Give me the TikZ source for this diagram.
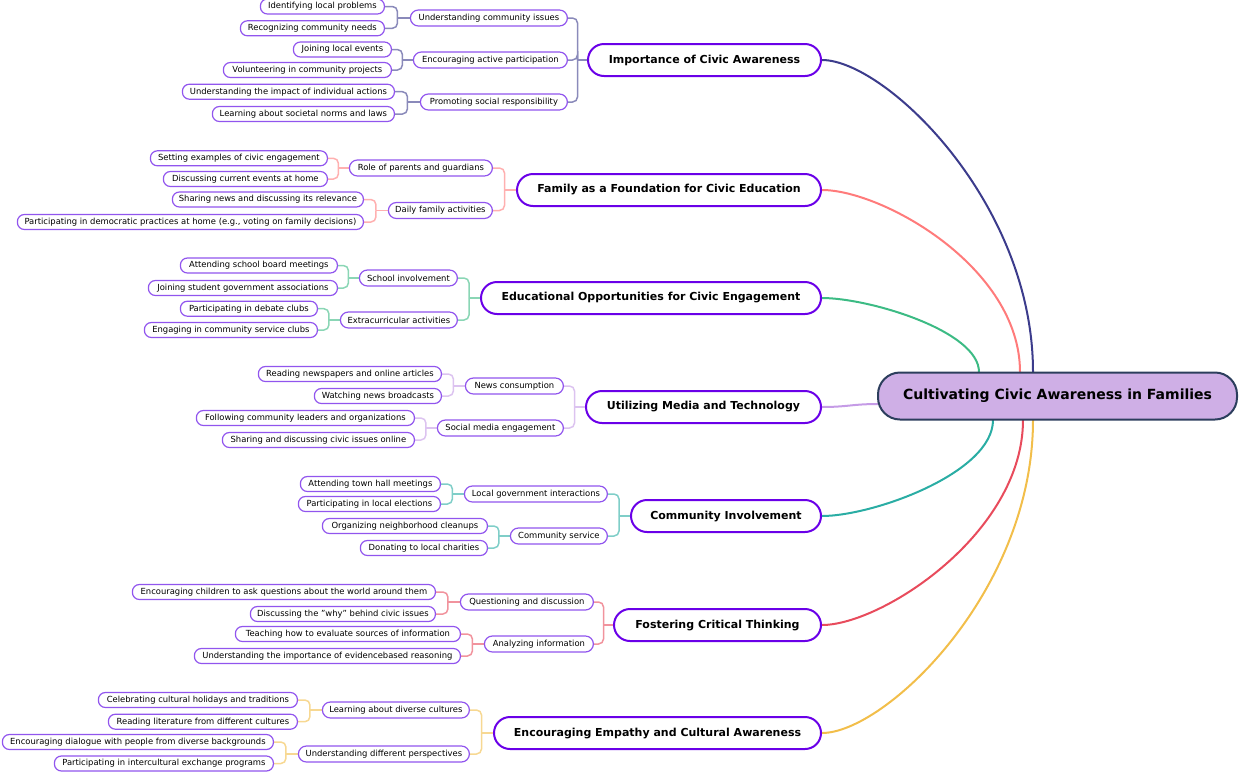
\documentclass[tikz,border=0pt]{standalone}
\usepackage{fontspec}
\setmainfont{DejaVu Sans}
\usetikzlibrary{calc,backgrounds}
\definecolor{leafc}{HTML}{9155EE}
\definecolor{mainc}{HTML}{6A00E8}
\definecolor{rootf}{HTML}{CFAFE6}
\definecolor{rootb}{HTML}{2C3E5D}
\definecolor{bA}{HTML}{3C3C8C}
\definecolor{bB}{HTML}{FF7B7B}
\definecolor{bC}{HTML}{3CBB84}
\definecolor{bD}{HTML}{C59BE6}
\definecolor{bE}{HTML}{2AADA4}
\definecolor{bF}{HTML}{E84B5C}
\definecolor{bG}{HTML}{F2BE4A}
\tikzset{
  leaf/.style={draw=leafc, line width=1.2pt, fill=white, rounded corners=7pt,
    minimum height=15pt, inner sep=0pt, anchor=east, font=\fontsize{8.4}{10}\selectfont},
  sub/.style={leaf, minimum height=16pt, rounded corners=8pt},
  mainn/.style={draw=mainc, line width=2pt, fill=white, rounded corners=16pt,
    minimum height=32pt, inner sep=0pt, anchor=east, font=\fontsize{11}{13}\selectfont\bfseries},
  rootn/.style={draw=rootb, fill=rootf, line width=2pt, rounded corners=22pt,
    minimum height=47pt, minimum width=359pt, inner sep=0pt, font=\fontsize{14}{16}\selectfont\bfseries},
  br/.style={line width=1.5pt, rounded corners=5pt},
  crv/.style={line width=2pt}
}
\newcommand\lnk[3]{%
  \coordinate (tmpm) at ($(#1.east)!0.5!(#2.west)$);
  \draw[br, draw=#3] (#1.east) -| (tmpm |- #2.west);
  \draw[br, draw=#3] (tmpm |- #2.west) -- (#2.west);}
\begin{document}
\begin{tikzpicture}[x=1pt,y=-1pt]
\useasboundingbox (0,0) rectangle (1240,772);

% root
\node[rootn] (root) at (1057.5,396) {Cultivating Civic Awareness in Families};

% branch 1
\node[mainn, minimum width=233pt] (m1) at (822,60) {Importance of Civic Awareness};
\node[sub, minimum width=157pt] (s1a) at (568,18) {Understanding community issues};
\node[sub, minimum width=154pt] (s1b) at (568,60) {Encouraging active participation};
\node[sub, minimum width=147pt] (s1c) at (568,102) {Promoting social responsibility};
\node[leaf, minimum width=124pt] (l1a1) at (385,6.5) {Identifying local problems};
\node[leaf, minimum width=144pt] (l1a2) at (385,28.3) {Recognizing community needs};
\node[leaf, minimum width=98pt] (l1b1) at (392,49.5) {Joining local events};
\node[leaf, minimum width=168pt] (l1b2) at (392,70) {Volunteering in community projects};
\node[leaf, minimum width=212pt] (l1c1) at (395,91.7) {Understanding the impact of individual actions};
\node[leaf, minimum width=182pt] (l1c2) at (395,114) {Learning about societal norms and laws};

% branch 2
\node[mainn, minimum width=304pt] (m2) at (822,190) {Family as a Foundation for Civic Education};
\node[sub, minimum width=143pt] (s2a) at (493,168) {Role of parents and guardians};
\node[sub, minimum width=104pt] (s2b) at (493,210.5) {Daily family activities};
\node[leaf, minimum width=177pt] (l2a1) at (328,158.3) {Setting examples of civic engagement};
\node[leaf, minimum width=164pt] (l2a2) at (328,179) {Discussing current events at home};
\node[leaf, minimum width=191pt] (l2b1) at (364,199.5) {Sharing news and discussing its relevance};
\node[leaf, minimum width=346pt] (l2b2) at (364,222) {Participating in democratic practices at home (e.g., voting on family decisions)};

% branch 3
\node[mainn, minimum width=340pt] (m3) at (822,298) {Educational Opportunities for Civic Engagement};
\node[sub, minimum width=98pt] (s3a) at (458,278) {School involvement};
\node[sub, minimum width=117pt] (s3b) at (458,320) {Extracurricular activities};
\node[leaf, minimum width=157pt] (l3a1) at (338,265.5) {Attending school board meetings};
\node[leaf, minimum width=189pt] (l3a2) at (338,288) {Joining student government associations};
\node[leaf, minimum width=137pt] (l3b1) at (318,308.7) {Participating in debate clubs};
\node[leaf, minimum width=173pt] (l3b2) at (318,330) {Engaging in community service clubs};

% branch 4
\node[mainn, minimum width=235pt] (m4) at (822,407) {Utilizing Media and Technology};
\node[sub, minimum width=98pt] (s4a) at (564,386) {News consumption};
\node[sub, minimum width=126pt] (s4b) at (564,428) {Social media engagement};
\node[leaf, minimum width=183pt] (l4a1) at (442,374) {Reading newspapers and online articles};
\node[leaf, minimum width=127pt] (l4a2) at (442,396) {Watching news broadcasts};
\node[leaf, minimum width=218pt] (l4b1) at (415,418) {Following community leaders and organizations};
\node[leaf, minimum width=192pt] (l4b2) at (415,440) {Sharing and discussing civic issues online};

% branch 5
\node[mainn, minimum width=190pt] (m5) at (822,516) {Community Involvement};
\node[sub, minimum width=143pt] (s5a) at (608,494) {Local government interactions};
\node[sub, minimum width=97pt] (s5b) at (608,536) {Community service};
\node[leaf, minimum width=140pt] (l5a1) at (441,484) {Attending town hall meetings};
\node[leaf, minimum width=142pt] (l5a2) at (441,504) {Participating in local elections};
\node[leaf, minimum width=165pt] (l5b1) at (488,526) {Organizing neighborhood cleanups};
\node[leaf, minimum width=127pt] (l5b2) at (488,548) {Donating to local charities};

% branch 6
\node[mainn, minimum width=207pt] (m6) at (822,625) {Fostering Critical Thinking};
\node[sub, minimum width=133pt] (s6a) at (594,602) {Questioning and discussion};
\node[sub, minimum width=109pt] (s6b) at (594,644) {Analyzing information};
\node[leaf, minimum width=303pt] (l6a1) at (436,592) {Encouraging children to ask questions about the world around them};
\node[leaf, minimum width=185pt] (l6a2) at (436,614) {Discussing the "why" behind civic issues};
\node[leaf, minimum width=225pt] (l6b1) at (461,634) {Teaching how to evaluate sources of information};
\node[leaf, minimum width=266pt] (l6b2) at (461,656) {Understanding the importance of evidencebased reasoning};

% branch 7
\node[mainn, minimum width=327pt] (m7) at (822,733) {Encouraging Empathy and Cultural Awareness};
\node[sub, minimum width=147pt] (s7a) at (470,710) {Learning about diverse cultures};
\node[sub, minimum width=171pt] (s7b) at (470,754) {Understanding different perspectives};
\node[leaf, minimum width=199pt] (l7a1) at (298,700) {Celebrating cultural holidays and traditions};
\node[leaf, minimum width=189pt] (l7a2) at (298,721.7) {Reading literature from different cultures};
\node[leaf, minimum width=271pt] (l7b1) at (274,742) {Encouraging dialogue with people from diverse backgrounds};
\node[leaf, minimum width=219pt] (l7b2) at (274,763.5) {Participating in intercultural exchange programs};

% root attachment points
\coordinate (r1) at (1033,372);
\coordinate (r2) at (1020,372);
\coordinate (r3) at (979,372);
\coordinate (r4) at (878,404);
\coordinate (r5) at (993,420);
\coordinate (r6) at (1023,420);
\coordinate (r7) at (1033,420);

\begin{pgfonlayer}{background}
\draw[crv, bA] (m1.east) .. controls +(63,0) and +(0,-170) .. (r1);
\draw[crv, bB] (m2.east) .. controls +(60,0) and +(0,-105) .. (r2);
\draw[crv, bC] (m3.east) .. controls +(47,0) and +(0,-41) .. (r3);
\draw[crv, bD] (m4.east) .. controls +(25,0) and +(-25,0) .. (r4);
\draw[crv, bE] (m5.east) .. controls +(51,0) and +(0,53) .. (r5);
\draw[crv, bF] (m6.east) .. controls +(60,0) and +(0,113) .. (r6);
\draw[crv, bG] (m7.east) .. controls +(63,0) and +(0,172) .. (r7);

\lnk{s1a}{m1}{bA!60}\lnk{s1b}{m1}{bA!60}\lnk{s1c}{m1}{bA!60}
\lnk{l1a1}{s1a}{bA!60}\lnk{l1a2}{s1a}{bA!60}
\lnk{l1b1}{s1b}{bA!60}\lnk{l1b2}{s1b}{bA!60}
\lnk{l1c1}{s1c}{bA!60}\lnk{l1c2}{s1c}{bA!60}

\lnk{s2a}{m2}{bB!60}\lnk{s2b}{m2}{bB!60}
\lnk{l2a1}{s2a}{bB!60}\lnk{l2a2}{s2a}{bB!60}
\lnk{l2b1}{s2b}{bB!60}\lnk{l2b2}{s2b}{bB!60}

\lnk{s3a}{m3}{bC!60}\lnk{s3b}{m3}{bC!60}
\lnk{l3a1}{s3a}{bC!60}\lnk{l3a2}{s3a}{bC!60}
\lnk{l3b1}{s3b}{bC!60}\lnk{l3b2}{s3b}{bC!60}

\lnk{s4a}{m4}{bD!60}\lnk{s4b}{m4}{bD!60}
\lnk{l4a1}{s4a}{bD!60}\lnk{l4a2}{s4a}{bD!60}
\lnk{l4b1}{s4b}{bD!60}\lnk{l4b2}{s4b}{bD!60}

\lnk{s5a}{m5}{bE!60}\lnk{s5b}{m5}{bE!60}
\lnk{l5a1}{s5a}{bE!60}\lnk{l5a2}{s5a}{bE!60}
\lnk{l5b1}{s5b}{bE!60}\lnk{l5b2}{s5b}{bE!60}

\lnk{s6a}{m6}{bF!60}\lnk{s6b}{m6}{bF!60}
\lnk{l6a1}{s6a}{bF!60}\lnk{l6a2}{s6a}{bF!60}
\lnk{l6b1}{s6b}{bF!60}\lnk{l6b2}{s6b}{bF!60}

\lnk{s7a}{m7}{bG!60}\lnk{s7b}{m7}{bG!60}
\lnk{l7a1}{s7a}{bG!60}\lnk{l7a2}{s7a}{bG!60}
\lnk{l7b1}{s7b}{bG!60}\lnk{l7b2}{s7b}{bG!60}
\end{pgfonlayer}
\end{tikzpicture}
\end{document}
